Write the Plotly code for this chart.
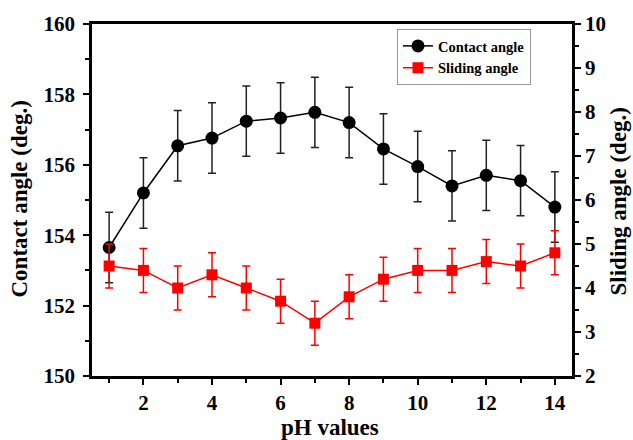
import plotly.graph_objects as go

ph = [1, 2, 3, 4, 5, 6, 7, 8, 9, 10, 11, 12, 13, 14]
contact = [153.65, 155.2, 156.54, 156.76, 157.24, 157.33, 157.49, 157.2, 156.45, 155.95, 155.4, 155.7, 155.55, 154.8]
contact_err = [1.0] * 14
sliding = [4.5, 4.4, 4.0, 4.3, 4.0, 3.7, 3.2, 3.8, 4.2, 4.4, 4.4, 4.6, 4.5, 4.8]
sliding_err = [0.5] * 14

x_title = "pH values"
y_title = "Contact angle (deg.)"
y2_title = "Sliding angle (deg.)"

FONT = "Liberation Serif"

fig = go.Figure()
fig.add_trace(go.Scatter(
    x=ph, y=contact, name="Contact angle", mode="lines+markers",
    line=dict(color="black", width=1.5),
    marker=dict(symbol="circle", size=13, color="black"),
    error_y=dict(type="data", array=contact_err, color="#222222", thickness=1.5, width=4),
    yaxis="y"))
fig.add_trace(go.Scatter(
    x=ph, y=sliding, name="Sliding angle", mode="lines+markers",
    line=dict(color="red", width=1.5),
    marker=dict(symbol="square", size=11, color="red"),
    error_y=dict(type="data", array=sliding_err, color="red", thickness=1.5, width=4),
    yaxis="y2"))

tickf = dict(family=FONT, size=21, color="black", weight="bold")
titlef = dict(family=FONT, size=23, color="black", weight="bold")

W, H = 633, 440
L, R, T, B = 92, 61, 21, 64
pw, ph_ = W - L - R, H - T - B

def px_x(x):
    return (x - L) / pw

def px_y(y):
    return (H - B - y) / ph_

fig.update_layout(
    width=W, height=H,
    margin=dict(l=L, r=R, t=T, b=B),
    paper_bgcolor="white", plot_bgcolor="white",
    showlegend=True,
    legend=dict(x=px_x(397), y=px_y(26), xanchor="left", yanchor="top",
                bordercolor="#999999", borderwidth=1, bgcolor="white",
                font=dict(family=FONT, size=14.5, color="black", weight="bold"),
                tracegroupgap=0, itemwidth=30),
    xaxis=dict(range=[0.5, 14.5], tickmode="linear", tick0=2, dtick=2,
               ticks="outside", ticklen=6, tickwidth=2, tickcolor="black",
               minor=dict(ticks="outside", ticklen=4, tickwidth=2, dtick=1, tick0=1, tickcolor="black"),
               showline=True, linewidth=2.5, linecolor="black", mirror=True,
               showgrid=False, zeroline=False, tickfont=tickf),
    yaxis=dict(range=[150, 160], tickmode="linear", tick0=150, dtick=2,
               ticks="outside", ticklen=6, tickwidth=2, tickcolor="black",
               minor=dict(ticks="outside", ticklen=4, tickwidth=2, dtick=1, tickcolor="black"),
               showline=True, linewidth=2.5, linecolor="black", mirror=True,
               showgrid=False, zeroline=False, tickfont=tickf, ticklabelstandoff=4),
    yaxis2=dict(range=[2, 10], tickmode="linear", tick0=2, dtick=1, overlaying="y", side="right",
                ticks="outside", ticklen=6, tickwidth=2, tickcolor="black",
                minor=dict(ticks="outside", ticklen=4, tickwidth=2, dtick=0.5, tickcolor="black"),
                showline=True, linewidth=2.5, linecolor="black",
                showgrid=False, zeroline=False, tickfont=tickf),
    annotations=[
        dict(text=x_title, xref="paper", yref="paper", x=px_x(330), y=px_y(428),
             xanchor="center", yanchor="middle", showarrow=False, font=titlef),
        dict(text=y_title, xref="paper", yref="paper", x=px_x(20), y=px_y(198),
             xanchor="center", yanchor="middle", showarrow=False, font=titlef, textangle=-90),
        dict(text=y2_title, xref="paper", yref="paper", x=px_x(618), y=px_y(200),
             xanchor="center", yanchor="middle", showarrow=False, font=titlef, textangle=-90),
    ],
)

fig.write_html("out.html", config={"displayModeBar": False},
               post_script="document.body.style.margin='0';document.body.style.padding='0';document.body.style.overflow='hidden';")
